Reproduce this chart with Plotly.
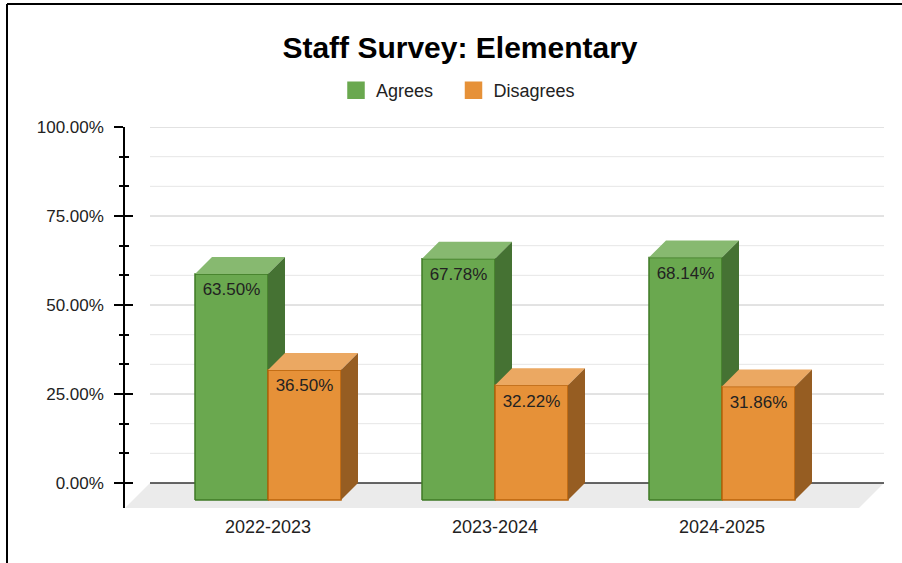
import plotly.graph_objects as go

# data
years = ["2022-2023", "2023-2024", "2024-2025"]
agrees = [63.50, 67.78, 68.14]
disagrees = [36.50, 32.22, 31.86]
series_names = ["Agrees", "Disagrees"]
y_ticks = [0, 25, 50, 75, 100]
y_tick_text = ["0.00%", "25.00%", "50.00%", "75.00%", "100.00%"]

# colours: front, top, side, outline
green = ["#6aa84f", "#87b970", "#457233", "#3f7a26"]
orange = ["#e69138", "#eba862", "#965d22", "#b8620a"]

# geometry (x in pixel-like units from the y axis, y in percent)
W, H = 902, 563
ML, MT = 125, 127
XR = 759
PH = 381
MR = W - ML - XR
MB = H - MT - PH
PX_PER_PCT = 3.56
DEPTH_X = 17
DEPTH_Y = 17 / PX_PER_PCT
FLOOR = 25
Y_MIN = -FLOOR / PX_PER_PCT
BAR_W = 73
G0, GSTEP = 143, 227
FONT = "Arial, Liberation Sans, sans-serif"

centers = [G0 + GSTEP * i for i in range(len(years))]


def faces(xl, v):
    front_x = [xl, xl + BAR_W, xl + BAR_W, xl, xl, None]
    front_y = [-DEPTH_Y, -DEPTH_Y, v - DEPTH_Y, v - DEPTH_Y, -DEPTH_Y, None]
    top_x = [xl, xl + BAR_W, xl + BAR_W + DEPTH_X, xl + DEPTH_X, xl, None]
    top_y = [v - DEPTH_Y, v - DEPTH_Y, v, v, v - DEPTH_Y, None]
    side_x = [xl + BAR_W, xl + BAR_W + DEPTH_X, xl + BAR_W + DEPTH_X, xl + BAR_W, xl + BAR_W, None]
    side_y = [-DEPTH_Y, 0, v, v - DEPTH_Y, -DEPTH_Y, None]
    return (front_x, front_y), (top_x, top_y), (side_x, side_y)


fig = go.Figure()

for name, vals, cols, off, leg in [("Agrees", agrees, green, -BAR_W, "legend"),
                                   ("Disagrees", disagrees, orange, 0, "legend2")]:
    fx, fy, tx, ty, sx, sy = [], [], [], [], [], []
    for c, v in zip(centers, vals):
        (a, b), (t1, t2), (s1, s2) = faces(c + off, v)
        fx += a; fy += b; tx += t1; ty += t2; sx += s1; sy += s2
    fig.add_trace(go.Scatter(x=fx, y=fy, fill="toself", fillcolor=cols[0], mode="lines",
                             line=dict(color=cols[3], width=1.5), showlegend=False, hoverinfo="skip"))
    fig.add_trace(go.Scatter(x=tx, y=ty, fill="toself", fillcolor=cols[1], mode="lines",
                             line=dict(width=0), showlegend=False, hoverinfo="skip"))
    fig.add_trace(go.Scatter(x=sx, y=sy, fill="toself", fillcolor=cols[2], mode="lines",
                             line=dict(width=0), showlegend=False, hoverinfo="skip"))
    fig.add_trace(go.Scatter(x=[c + off + BAR_W / 2 for c in centers],
                             y=[v - DEPTH_Y - 17 / PX_PER_PCT for v in vals],
                             text=[f"{v:.2f}%" for v in vals], mode="text",
                             textfont=dict(family=FONT, size=17, color="#222222"),
                             showlegend=False, hoverinfo="skip"))
    # legend entry
    fig.add_trace(go.Scatter(x=[None], y=[None], mode="markers", name=name, legend=leg,
                             marker=dict(symbol="square", size=16, color=cols[0],
                                         line=dict(color=cols[0], width=1.5))))

fig.add_trace(go.Scatter(x=[None], y=[None], yaxis="y2", showlegend=False, hoverinfo="skip"))

# floor, gridlines and base line
shapes = [dict(type="path", xref="x", yref="y", layer="below",
               path=f"M 0 {Y_MIN} L {FLOOR} 0 L {XR} 0 L {XR - FLOOR} {Y_MIN} Z",
               fillcolor="#ebebeb", line=dict(width=0))]
minor_vals = [t + k * 25 / 3 for t in y_ticks[:-1] for k in (1, 2)]
for v in minor_vals:
    shapes.append(dict(type="line", xref="x", yref="y", layer="below", x0=FLOOR, x1=XR, y0=v, y1=v,
                       line=dict(color="#e6e6e6", width=1)))
for v in y_ticks[1:]:
    shapes.append(dict(type="line", xref="x", yref="y", layer="below", x0=FLOOR, x1=XR, y0=v, y1=v,
                       line=dict(color="#c6c6c6", width=1)))
shapes.append(dict(type="line", xref="x", yref="y", layer="below", x0=FLOOR, x1=XR, y0=0, y1=0,
                   line=dict(color="#333333", width=1.5)))

# outer frame (top and left only)
fy_top = (PH + MT - 4) / PH
fx_left = (7 - ML) / XR
shapes.append(dict(type="line", xref="paper", yref="paper", x0=fx_left, x1=(W - ML) / XR,
                   y0=fy_top, y1=fy_top, line=dict(color="black", width=2)))
shapes.append(dict(type="line", xref="paper", yref="paper", x0=fx_left, x1=fx_left,
                   y0=fy_top, y1=-0.3, line=dict(color="black", width=2)))

yaxis_common = dict(range=[Y_MIN, 100], showgrid=False, zeroline=False, fixedrange=True)
legend_common = dict(orientation="h", xanchor="left", y=(PH + MT - 90.5) / PH, yanchor="middle",
                     font=dict(family=FONT, size=18, color="#222222"), itemclick=False)

fig.update_layout(
    width=W, height=H,
    margin=dict(l=ML, r=MR, t=MT, b=MB),
    paper_bgcolor="white", plot_bgcolor="white",
    font=dict(family=FONT, color="#222222"),
    title=dict(text="Staff Survey: Elementary", x=460 / W, xanchor="center",
               y=1 - 47 / H, yanchor="middle",
               font=dict(family=FONT, size=30, color="black", weight="bold")),
    showlegend=True,
    legend=dict(**legend_common, x=(336 - ML) / XR),
    legend2=dict(**legend_common, x=(453.5 - ML) / XR),
    xaxis=dict(range=[0, XR], tickmode="array", tickvals=centers, ticktext=years,
               showgrid=False, zeroline=False, showline=False, ticks="", fixedrange=True,
               tickfont=dict(size=18, color="#222222"), ticklabelstandoff=6),
    yaxis=dict(**yaxis_common, tickmode="array", tickvals=y_ticks, ticktext=y_tick_text,
               showline=True, linecolor="black", linewidth=1.5,
               ticks="outside", ticklen=9, tickwidth=1.5, tickcolor="black",
               minor=dict(tickmode="array", tickvals=minor_vals, ticks="outside",
                          ticklen=4, tickwidth=1.5, tickcolor="black", showgrid=False),
               tickfont=dict(size=17, color="#222222"), ticklabelstandoff=7),
    yaxis2=dict(**yaxis_common, overlaying="y", side="left", anchor="x",
                tickmode="array", tickvals=y_ticks, showticklabels=False, showline=False,
                ticks="inside", ticklen=8, tickwidth=1.5, tickcolor="black",
                minor=dict(tickmode="array", tickvals=minor_vals, ticks="inside",
                           ticklen=4, tickwidth=1.5, tickcolor="black", showgrid=False)),
    shapes=shapes,
)

# remove the default page margin so the figure sits at the window corner
fig.write_html("out.html", config={"displayModeBar": False},
               post_script="document.body.style.margin='0';")
